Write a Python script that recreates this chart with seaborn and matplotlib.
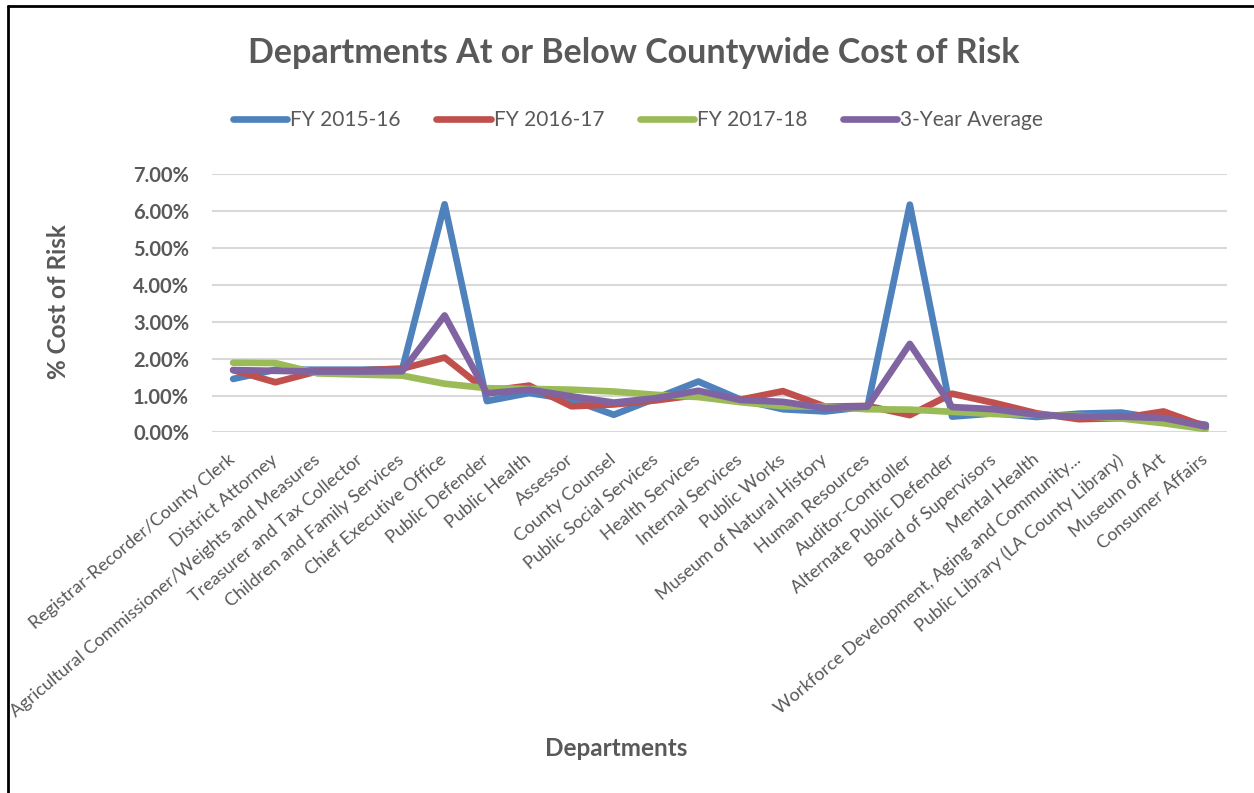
import numpy as np
import pandas as pd
import matplotlib
matplotlib.use("Agg")
import matplotlib.pyplot as plt
from matplotlib.lines import Line2D
from matplotlib.ticker import PercentFormatter
import seaborn as sns

departments = [
    "Registrar-Recorder/County Clerk",
    "District Attorney",
    "Agricultural Commissioner/Weights and Measures",
    "Treasurer and Tax Collector",
    "Children and Family Services",
    "Chief Executive Office",
    "Public Defender",
    "Public Health",
    "Assessor",
    "County Counsel",
    "Public Social Services",
    "Health Services",
    "Internal Services",
    "Public Works",
    "Museum of Natural History",
    "Human Resources",
    "Auditor-Controller",
    "Alternate Public Defender",
    "Board of Supervisors",
    "Mental Health",
    "Workforce Development, Aging and Community...",
    "Public Library (LA County Library)",
    "Museum of Art",
    "Consumer Affairs",
]

# % cost of risk per department
fy_2015_16 = [1.45, 1.70, 1.70, 1.70, 1.72, 6.18, 0.85, 1.07, 0.89, 0.48, 0.93, 1.38,
              0.89, 0.63, 0.57, 0.70, 6.17, 0.43, 0.52, 0.42, 0.51, 0.54, 0.36, 0.21]
fy_2016_17 = [1.69, 1.36, 1.66, 1.68, 1.73, 2.03, 1.12, 1.27, 0.71, 0.76, 0.87, 1.02,
              0.89, 1.12, 0.70, 0.72, 0.47, 1.05, 0.80, 0.52, 0.36, 0.39, 0.57, 0.16]
fy_2017_18 = [1.89, 1.88, 1.60, 1.57, 1.54, 1.32, 1.20, 1.18, 1.16, 1.11, 1.02, 0.96,
              0.82, 0.71, 0.70, 0.63, 0.62, 0.56, 0.50, 0.48, 0.45, 0.38, 0.25, 0.09]
avg_3yr = [1.69, 1.67, 1.65, 1.65, 1.66, 3.17, 1.06, 1.16, 0.98, 0.81, 0.93, 1.13,
           0.88, 0.83, 0.66, 0.70, 2.40, 0.69, 0.63, 0.48, 0.43, 0.43, 0.39, 0.16]

series_names = ["FY 2015-16", "FY 2016-17", "FY 2017-18", "3-Year Average"]
series_colors = ["#4F81BD", "#C0504D", "#9BBB59", "#8064A2"]

frames = []
for name, vals in zip(series_names, [fy_2015_16, fy_2016_17, fy_2017_18, avg_3yr]):
    frames.append(pd.DataFrame({
        "Department": departments,
        "Cost": np.array(vals) / 100.0,
        "Series": name,
    }))
df = pd.concat(frames, ignore_index=True)

sns.set_theme(style="white")
plt.rcParams["font.family"] = ["Lato", "DejaVu Sans"]

TEXT = "#595959"
W, H = 1254, 793
fig = plt.figure(figsize=(W / 100, H / 100), dpi=100)
fig.patch.set_facecolor("white")

left, right = 212 / W, 1227 / W
bottom, top = 1 - 432.5 / H, 1 - 174 / H
ax = fig.add_axes([left, bottom, right - left, top - bottom])

sns.lineplot(data=df, x="Department", y="Cost", hue="Series",
             hue_order=series_names, palette=series_colors,
             sort=False, linewidth=4.8, ax=ax, legend=False)
for ln in ax.get_lines():
    ln.set_solid_joinstyle("round")
    ln.set_solid_capstyle("round")

ax.set_xlim(-0.5, len(departments) - 0.5)
ax.set_ylim(0, 0.07)
ax.set_yticks(np.arange(0, 0.0701, 0.01))
ax.yaxis.set_major_formatter(PercentFormatter(1.0, decimals=2))
ax.grid(axis="y", color="#D9D9D9", linewidth=1.5)
ax.grid(axis="x", visible=False)
ax.set_axisbelow(True)
for s in ax.spines.values():
    s.set_visible(False)

ax.tick_params(axis="y", length=0, pad=16.5, labelsize=14.5, labelcolor=TEXT)
for t in ax.get_yticklabels():
    t.set_fontweight("bold")

ax.set_xticks(range(len(departments)))
ax.set_xticklabels(departments, rotation=40, ha="right", va="center",
                   rotation_mode="anchor", fontsize=13, color=TEXT)
ax.tick_params(axis="x", length=0, pad=18)
ax.set_xlabel("")
ax.set_ylabel("")

# Title, axis titles
fig.text(634 / W, 1 - 53 / H, "Departments At or Below Countywide Cost of Risk",
         ha="center", va="center", fontsize=24.5, fontweight="bold", color=TEXT)
fig.text(58 / W, 1 - 302 / H, "% Cost of Risk", rotation=90,
         ha="center", va="center", fontsize=17.5, fontweight="bold", color=TEXT)
fig.text(616 / W, 1 - 748 / H, "Departments",
         ha="center", va="center", fontsize=17.5, fontweight="bold", color=TEXT)

# Legend across the top
handles = [Line2D([0], [0], color=c, lw=4.8, solid_capstyle="round")
           for c in series_colors]
leg = fig.legend(handles, series_names, loc="center", ncol=4,
                 bbox_to_anchor=(638 / W, 1 - 120 / H), frameon=False,
                 fontsize=15, handlelength=2.6, handletextpad=0.15,
                 columnspacing=1.7)
for t in leg.get_texts():
    t.set_color(TEXT)

# Outer frame (top and left edges)
fig.add_artist(Line2D([8 / W, 8 / W], [0, 1 - 6 / H], color="black",
                      lw=2, transform=fig.transFigure))
fig.add_artist(Line2D([8 / W, 1], [1 - 6 / H, 1 - 6 / H], color="black",
                      lw=2, transform=fig.transFigure))

fig.savefig("out.png", dpi=100)
